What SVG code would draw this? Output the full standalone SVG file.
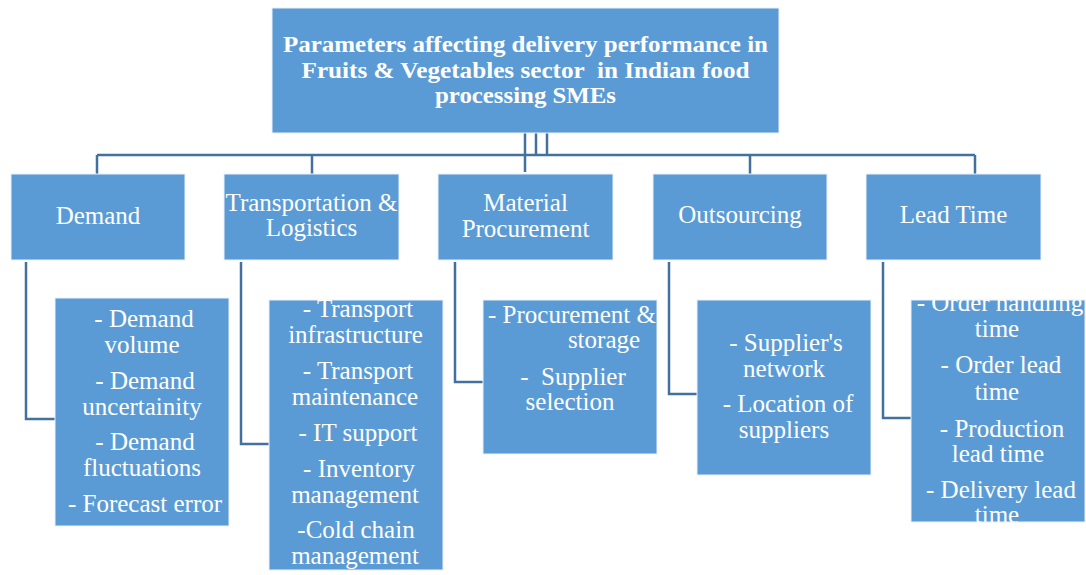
<svg xmlns="http://www.w3.org/2000/svg" width="1086" height="575" viewBox="0 0 1086 575">
<style>
.box{fill:#5B9BD5;stroke:#EAF1FA;stroke-width:1}
.t{font-family:"Liberation Serif","Times New Roman",serif;fill:#FFFFFF;text-anchor:middle;font-size:25px}
.title{font-family:"Liberation Serif","Times New Roman",serif;fill:#FFFFFF;text-anchor:middle;font-size:22.5px;font-weight:bold}
.conn{fill:none;stroke:#41719C;stroke-width:2.5}
</style>
<defs>
<clipPath id="clipLead"><rect x="911" y="300" width="174" height="222"/></clipPath>
<clipPath id="clipTrans"><rect x="269" y="300" width="174" height="270"/></clipPath>
</defs>
<rect width="1086" height="575" fill="#FFFFFF"/>
<g id="connectors">
<path class="conn" d="M525,133 V172 M536,133 V155 M547,133 V155 M97,155 H975 M97,155 V174 M312,155 V174 M750,155 V174 M975,155 V174"/>
<path class="conn" d="M26,262 V419 H55"/>
<path class="conn" d="M241,262 V444 H269"/>
<path class="conn" d="M455,262 V382 H483"/>
<path class="conn" d="M669,262 V394 H697"/>
<path class="conn" d="M883,262 V418 H911"/>
</g>
<g id="root">
<rect class="box" x="272" y="8" width="507" height="125"/>
<text class="title" x="525.5" y="52" textLength="485" lengthAdjust="spacingAndGlyphs">Parameters affecting delivery performance in</text>
<text class="title" x="525.5" y="78" textLength="448" lengthAdjust="spacingAndGlyphs" xml:space="preserve">Fruits &amp; Vegetables sector  in Indian food</text>
<text class="title" x="525.5" y="103" textLength="181" lengthAdjust="spacingAndGlyphs">processing SMEs</text>
</g>
<g id="demand">
<rect class="box" x="11" y="174" width="174" height="86"/>
<text class="t" x="98" y="224">Demand</text>
</g>
<g id="transport">
<rect class="box" x="224" y="174" width="175" height="86"/>
<text class="t" x="311.5" y="211">Transportation &amp;</text>
<text class="t" x="311.5" y="236">Logistics</text>
</g>
<g id="material">
<rect class="box" x="438" y="174" width="175" height="86"/>
<text class="t" x="525.5" y="211">Material</text>
<text class="t" x="525.5" y="237">Procurement</text>
</g>
<g id="outsourcing">
<rect class="box" x="653" y="174" width="174" height="86"/>
<text class="t" x="740" y="223">Outsourcing</text>
</g>
<g id="leadtime">
<rect class="box" x="866" y="174" width="175" height="86"/>
<text class="t" x="953.5" y="223">Lead Time</text>
</g>
<g id="demand-items">
<rect class="box" x="55" y="298" width="174" height="228"/>
<text class="t" x="144" y="327">- Demand</text>
<text class="t" x="142" y="353">volume</text>
<text class="t" x="145" y="389">- Demand</text>
<text class="t" x="142" y="415">uncertainity</text>
<text class="t" x="145" y="450">- Demand</text>
<text class="t" x="142" y="476">fluctuations</text>
<text class="t" x="145" y="512">- Forecast error</text>
</g>
<g id="transport-items">
<rect class="box" x="269" y="300" width="174" height="270"/>
<g clip-path="url(#clipTrans)">
<text class="t" x="358" y="317">- Transport</text>
<text class="t" x="355.5" y="343">infrastructure</text>
<text class="t" x="358" y="379">- Transport</text>
<text class="t" x="355" y="405">maintenance</text>
<text class="t" x="358" y="441">- IT support</text>
<text class="t" x="359" y="477">- Inventory</text>
<text class="t" x="355" y="503">management</text>
<text class="t" x="356" y="538">-Cold chain</text>
<text class="t" x="355" y="564">management</text>
</g>
</g>
<g id="material-items">
<rect class="box" x="483" y="300" width="174" height="154"/>
<text class="t" x="572" y="323">- Procurement &amp;</text>
<text class="t" x="604" y="348">storage</text>
<text class="t" x="573" y="385" xml:space="preserve">-  Supplier</text>
<text class="t" x="570" y="410">selection</text>
</g>
<g id="outsourcing-items">
<rect class="box" x="697" y="300" width="174" height="175"/>
<text class="t" x="786" y="351">- Supplier's</text>
<text class="t" x="784" y="377">network</text>
<text class="t" x="788" y="412">- Location of</text>
<text class="t" x="784" y="438">suppliers</text>
</g>
<g id="leadtime-items">
<rect class="box" x="911" y="300" width="174" height="222"/>
<g clip-path="url(#clipLead)">
<text class="t" x="1000" y="311">- Order handling</text>
<text class="t" x="997" y="337">time</text>
<text class="t" x="1001" y="373">- Order lead</text>
<text class="t" x="997" y="400">time</text>
<text class="t" x="1002" y="437">- Production</text>
<text class="t" x="998" y="462">lead time</text>
<text class="t" x="1001" y="498">- Delivery lead</text>
<text class="t" x="997" y="523">time</text>
</g>
</g>
</svg>
